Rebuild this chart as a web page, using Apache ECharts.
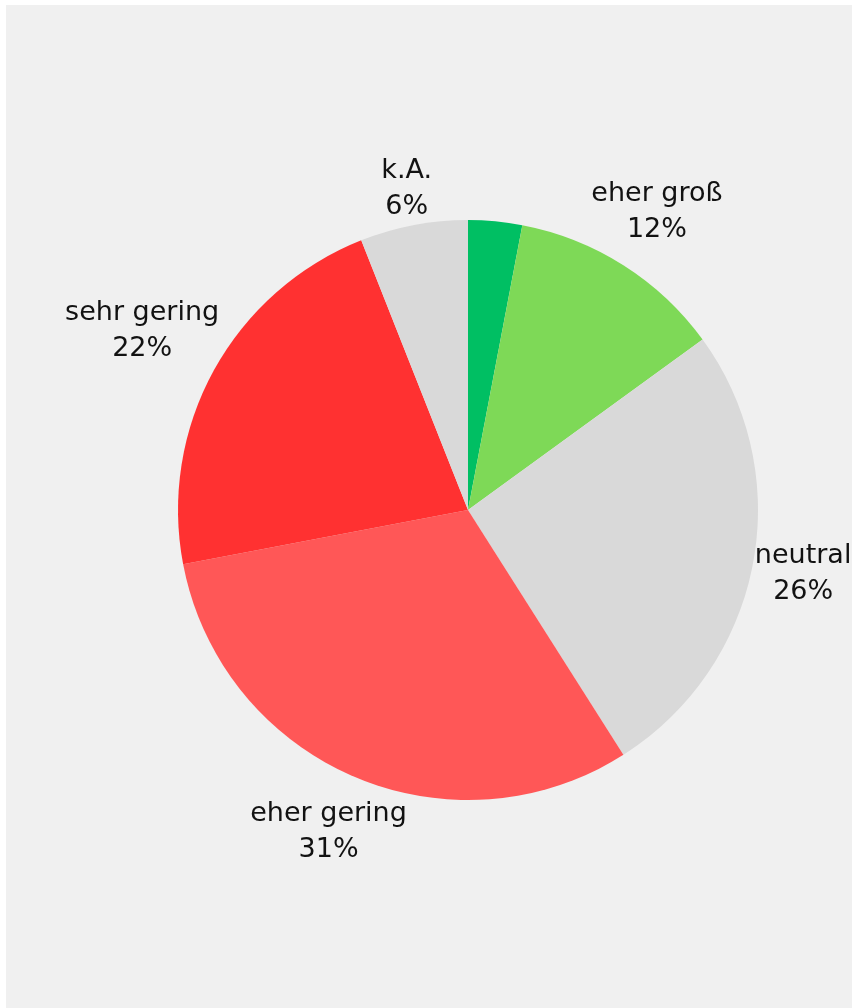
<!DOCTYPE html>
<html>
<head>
<meta charset="utf-8">
<script src="https://cdn.jsdelivr.net/npm/echarts@6/dist/echarts.min.js"></script>
<style>
  html, body { margin: 0; padding: 0; background: #ffffff; }
  #panel { position: absolute; left: 6px; top: 5px; right: 0; bottom: 0; background: #f0f0f0; }
  #chart { position: absolute; left: 0; top: 0; width: 852px; height: 1008px; }
</style>
</head>
<body>
<div id="panel"></div>
<div id="chart"></div>
<script>
// Survey answer shares, clockwise from 12 o'clock
const categories = ['sehr groß', 'eher groß', 'neutral', 'eher gering', 'sehr gering', 'k.A.'];
const shares = [3, 12, 26, 31, 22, 6];
const colors = ['#00bf63', '#7ed957', '#d9d9d9', '#ff5757', '#ff3131', '#d9d9d9'];
const showLabel = [false, true, true, true, true, true];

const CX = 468, CY = 510, R = 290;
const LABEL_GAP = -3;
const total = shares.reduce((a, b) => a + b, 0);

// mid angle of each slice, measured clockwise from the top
const midAngles = [];
let acc = 0;
shares.forEach(v => {
  midAngles.push((acc + v / 2) / total * 2 * Math.PI);
  acc += v;
});

const chart = echarts.init(document.getElementById('chart'), null, { renderer: 'canvas' });

chart.setOption({
  backgroundColor: 'transparent',
  animation: false,
  series: [{
    type: 'pie',
    center: [CX, CY],
    radius: [0, R],
    startAngle: 90,
    clockwise: true,
    avoidLabelOverlap: false,
    labelLine: { show: false },
    label: {
      show: true,
      position: 'outside',
      formatter: '{b}\n{d}%',
      fontFamily: 'DejaVu Sans',
      fontSize: 27,
      lineHeight: 36,
      color: '#121212',
      align: 'center'
    },
    // place each label just outside the rim, along the slice's bisector
    labelLayout: function (params) {
      const i = params.dataIndex;
      const a = midAngles[i];
      const dx = Math.sin(a), dy = -Math.cos(a);
      const w = params.labelRect.width, h = params.labelRect.height;
      const extent = Math.abs(dx) * w / 2 + Math.abs(dy) * h / 2;
      const r = R + extent + LABEL_GAP;
      return {
        x: CX + dx * r,
        y: CY + dy * r,
        align: 'center',
        verticalAlign: 'middle'
      };
    },
    data: categories.map((name, i) => ({
      name: name,
      value: shares[i],
      itemStyle: { color: colors[i] },
      label: { show: showLabel[i] }
    }))
  }]
});
</script>
</body>
</html>
